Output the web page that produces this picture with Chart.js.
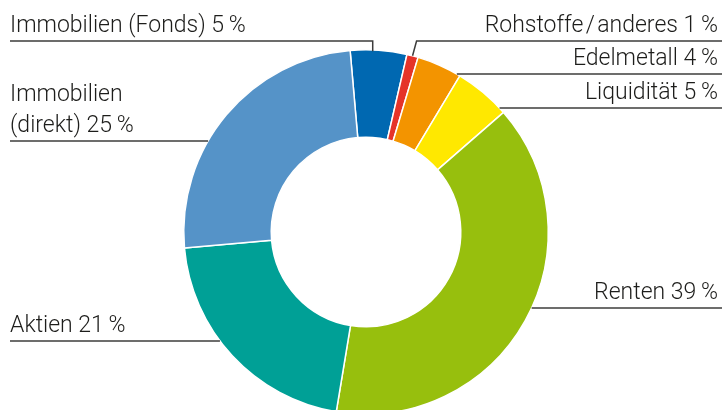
<!DOCTYPE html>
<html>
<head>
<meta charset="utf-8">
<script src="https://cdn.jsdelivr.net/npm/chart.js@4"></script>
<style>
  html, body { margin: 0; padding: 0; background: #fff; }
  #wrap { width: 725px; height: 410px; overflow: hidden; position: relative; }
</style>
</head>
<body>
<div id="wrap"><canvas id="assetChart" width="725" height="464"></canvas></div>
<script>
// Anteile in Prozent, im Uhrzeigersinn ab oben
const categories = ['Immobilien (Fonds)', 'Rohstoffe\u200A/\u200Aanderes', 'Edelmetall', 'Liquidität', 'Renten', 'Aktien', 'Immobilien (direkt)'];
const shares = [5, 1, 4, 5, 39, 21, 25];
const sliceColors = ['#0068b1', '#e53329', '#f39400', '#ffe800', '#97bf0d', '#00a096', '#5593c8'];

// Beschriftungen: Textzeilen, Seite, Höhe der Linie, Art der Führungslinie
const labelLines = [
    ['Immobilien (Fonds) 5\u2009%'],
    ['Rohstoffe\u200A/\u200Aanderes 1\u2009%'],
    ['Edelmetall 4\u2009%'],
    ['Liquidität 5\u2009%'],
    ['Renten 39\u2009%'],
    ['Aktien 21\u2009%'],
    ['Immobilien', '(direkt) 25\u2009%']
];
const labelSide = ['left', 'right', 'right', 'right', 'right', 'left', 'left'];
const labelY = [41, 41, 74, 108, 308, 341, 141];
const leaderType = ['drop', 'elbow', 'edge', 'edge', 'edge', 'edge', 'edge'];

const FONT = '300 23px Roboto, "Liberation Sans", Arial, sans-serif';
const LEFT_X = 10;
const RIGHT_X = 722;
const LINE_HEIGHT = 31;

// zeichnet Texte und Führungslinien an den Segmenten
const leaderLabels = {
    id: 'leaderLabels',
    afterDatasetsDraw(chart) {
        const ctx = chart.ctx;
        const arcs = chart.getDatasetMeta(0).data;
        ctx.save();
        ctx.font = FONT;
        ctx.fillStyle = '#1d1d1b';
        ctx.strokeStyle = '#3c3c3b';
        ctx.lineWidth = 1.5;
        arcs.forEach((arc, i) => {
            const { x, y, outerRadius, startAngle, endAngle } = arc.getProps(['x', 'y', 'outerRadius', 'startAngle', 'endAngle'], true);
            const mid = (startAngle + endAngle) / 2;
            const ly = labelY[i];
            const left = labelSide[i] === 'left';
            const lineStart = left ? LEFT_X : RIGHT_X;

            ctx.beginPath();
            if (leaderType[i] === 'edge') {
                const dx = Math.sqrt(Math.max(outerRadius * outerRadius - (ly - y) * (ly - y), 0));
                const ex = left ? x - dx : x + dx;
                ctx.moveTo(lineStart, ly);
                ctx.lineTo(ex, ly);
            } else {
                const ax = x + Math.cos(mid) * outerRadius;
                const ay = y + Math.sin(mid) * outerRadius;
                if (leaderType[i] === 'drop') {
                    ctx.moveTo(lineStart, ly);
                    ctx.lineTo(ax - 6, ly);
                    ctx.lineTo(ax - 6, ay + 1);
                } else {
                    ctx.moveTo(lineStart, ly);
                    ctx.lineTo(ax + 4, ly);
                    ctx.lineTo(ax, ay);
                }
            }
            ctx.stroke();

            ctx.textAlign = left ? 'left' : 'right';
            ctx.textBaseline = 'alphabetic';
            const lines = labelLines[i];
            lines.forEach((t, k) => {
                const by = ly - 9 - (lines.length - 1 - k) * LINE_HEIGHT;
                ctx.fillText(t, left ? LEFT_X : RIGHT_X - 4, by);
            });
        });
        ctx.restore();
    }
};

const ctx = document.getElementById('assetChart').getContext('2d');
const assetChart = new Chart(ctx, {
    type: 'doughnut',
    data: {
        labels: categories,
        datasets: [{
            data: shares,
            backgroundColor: sliceColors,
            borderColor: '#ffffff',
            borderWidth: 1.5,
            hoverOffset: 0,
            offset: 0
        }]
    },
    options: {
        responsive: false,
        animation: false,
        devicePixelRatio: 1,
        rotation: -5,
        cutout: '52%',
        layout: { padding: { left: 183, right: 176, top: 49, bottom: 49 } },
        events: [],
        plugins: {
            legend: { display: false },
            tooltip: { enabled: false }
        }
    },
    plugins: [leaderLabels]
});
</script>
</body>
</html>
